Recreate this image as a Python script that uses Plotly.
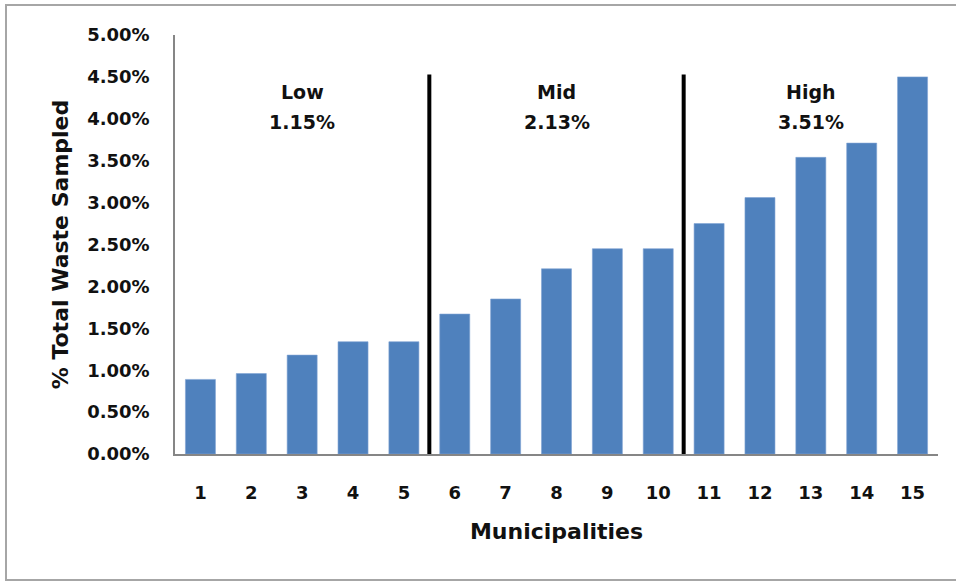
import plotly.graph_objects as go

# ---- data ----
municipalities = list(range(1, 16))
waste_sampled = [0.0089, 0.0096, 0.0118, 0.0134, 0.0134,
                 0.0167, 0.0185, 0.0221, 0.0245, 0.0245,
                 0.0275, 0.0306, 0.0354, 0.0371, 0.0450]
group_names = ["Low", "Mid", "High"]
group_avg_labels = ["1.15%", "2.13%", "3.51%"]
group_members = [[1, 2, 3, 4, 5], [6, 7, 8, 9, 10], [11, 12, 13, 14, 15]]
divider_x = [5.5, 10.5]
divider_top = 0.0453
y_ticks = [i * 0.005 for i in range(11)]

FONT = "DejaVu Sans"
BAR = "#4f81bd"
AXIS = "#868686"

fig = go.Figure()
fig.add_trace(go.Bar(
    x=municipalities, y=waste_sampled,
    marker=dict(color=BAR, line=dict(color="#7fa3d3", width=0.6)),
    width=0.59, showlegend=False,
))

# group divider lines
for xv in divider_x:
    fig.add_shape(type="line", xref="x", yref="y", x0=xv, x1=xv, y0=0, y1=divider_top,
                  line=dict(color="black", width=4), layer="above")

# group annotations
for name, avg, members in zip(group_names, group_avg_labels, group_members):
    cx = sum(members) / len(members)
    fig.add_annotation(x=cx, y=0.0432, xref="x", yref="y", text=f"<b>{name}</b>",
                       showarrow=False, font=dict(family=FONT, size=19, color="#111"))
    fig.add_annotation(x=cx, y=0.0396, xref="x", yref="y", text=f"<b>{avg}</b>",
                       showarrow=False, font=dict(family=FONT, size=19, color="#111"))

# outer frame
L, R, T, B = 175, 18, 35, 128
W, H = 956, 582
pw, ph = W - L - R, H - T - B
def px(xp):
    return (xp - L) / pw
def py(yp):
    return (H - B - yp) / ph
fig.add_shape(type="rect", xref="paper", yref="paper",
              x0=px(6), x1=px(962), y0=py(580), y1=py(5),
              line=dict(color="#a6a6a6", width=2), layer="below")

fig.update_layout(
    width=W, height=H,
    margin=dict(l=L, r=R, t=T, b=B),
    paper_bgcolor="white", plot_bgcolor="white",
    bargap=0.41,
    font=dict(family=FONT, size=18, color="#111"),
)
fig.update_xaxes(
    range=[0.5, 15.5], tickmode="array", tickvals=municipalities,
    ticktext=[f"<b>{m}</b>" for m in municipalities],
    showline=True, linecolor=AXIS, linewidth=1.5, showgrid=False, zeroline=False,
    ticks="", ticklabelstandoff=22,
    tickfont=dict(family=FONT, size=18, color="#111"),
    title=dict(text="<b>Municipalities</b>", font=dict(family=FONT, size=22, color="#111"), standoff=21),
)
fig.update_yaxes(
    range=[0, 0.05], tickmode="array", tickvals=y_ticks,
    ticktext=[f"<b>{v*100:.2f}%</b>" for v in y_ticks],
    showline=True, linecolor=AXIS, linewidth=1.5, showgrid=False, zeroline=False,
    ticks="", ticklabelstandoff=20,
    tickfont=dict(family=FONT, size=18, color="#111"),
    title=dict(text="<b>% Total Waste Sampled</b>", font=dict(family=FONT, size=22, color="#111"), standoff=12),
)

fig.write_html("out.html", config={"displayModeBar": False},
               post_script="document.body.style.margin='0';")
